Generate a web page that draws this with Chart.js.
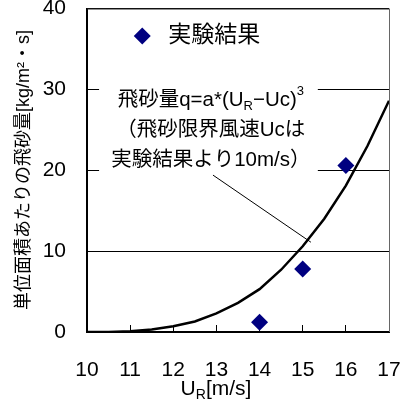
<!DOCTYPE html>
<html>
<head>
<meta charset="utf-8">
<script src="https://cdn.jsdelivr.net/npm/chart.js@4/dist/chart.umd.min.js"></script>
<style>
  html, body { margin: 0; padding: 0; background: #fff; }
  canvas { display: block; }
</style>
</head>
<body>
<canvas id="c" width="407" height="407"></canvas>
<script>
// Measured sand flux at each wind speed
const windSpeeds = [14, 15, 16];
const measuredFlux = [1.2, 7.8, 20.6];

// Fitted curve q = a*(U_R - Uc)^3, Uc = 10 m/s
const curveSpeeds = [10, 10.5, 11, 11.5, 12, 12.5, 13, 13.5, 14, 14.5, 15, 15.5, 16, 16.5, 17];
const curveFlux = [0, 0.01, 0.08, 0.3, 0.7, 1.3, 2.3, 3.6, 5.3, 7.7, 10.6, 14.0, 18.1, 23.0, 28.6];

// Axis ranges and ticks
const xRange = [10, 17];
const yRange = [0, 40];
const xStep = 1;
const yStep = 10;

// Text
const legendLabel = '実験結果';
const noteLines = [
  [{ t: '飛砂量q=a*(U' }, { t: 'R', sub: true }, { t: '−Uc)' }, { t: '3', sup: true }],
  [{ t: '（飛砂限界風速Ucは' }],
  [{ t: '実験結果より10m/s）' }]
];
const xTitle = [{ t: 'U' }, { t: 'R', sub: true }, { t: '[m/s]' }];
const yTitle = '単位面積あたりの飛砂量[kg/m²・s]';

const FAMILY = '"Liberation Sans", "Noto Sans CJK JP", sans-serif';
const NAVY = '#000080';

function font(size) { return size + 'px ' + FAMILY; }

// Width of a run of text with sub/superscript pieces
function richWidth(ctx, segs, size) {
  let w = 0;
  for (const s of segs) {
    ctx.font = font(s.sub || s.sup ? Math.round(size * 0.65) : size);
    w += ctx.measureText(s.t).width;
  }
  return w;
}
// Draws such a run starting at x (left), centred on y
function drawRich(ctx, segs, x, y, size) {
  ctx.textBaseline = 'middle';
  ctx.textAlign = 'left';
  for (const s of segs) {
    const small = s.sub || s.sup;
    ctx.font = font(small ? Math.round(size * 0.65) : size);
    const dy = s.sub ? size * 0.3 : s.sup ? -size * 0.42 : 0;
    ctx.fillText(s.t, x, y + dy);
    x += ctx.measureText(s.t).width;
  }
}

const decorations = {
  id: 'decorations',
  beforeDatasetsDraw(chart) {
    const { ctx, chartArea: a, scales: { x, y } } = chart;
    ctx.save();
    // white note box over the grid
    const bx0 = x.getPixelForValue(10.28), bx1 = x.getPixelForValue(15.35);
    const by0 = y.getPixelForValue(30.6), by1 = y.getPixelForValue(19.5);
    ctx.fillStyle = '#fff';
    ctx.fillRect(bx0, by0, bx1 - bx0, by1 - by0);
    // top and right frame
    ctx.strokeStyle = '#222';
    ctx.lineWidth = 1;
    ctx.beginPath();
    ctx.moveTo(a.left, a.top + 0.5);
    ctx.lineTo(a.right, a.top + 0.5);
    ctx.stroke();
    ctx.strokeStyle = '#666';
    ctx.beginPath();
    ctx.moveTo(a.right + 0.5, a.top);
    ctx.lineTo(a.right + 0.5, a.bottom);
    ctx.stroke();
    ctx.restore();
  },
  afterDatasetsDraw(chart) {
    const { ctx, scales: { x, y } } = chart;
    ctx.save();

    // legend
    const lx = x.getPixelForValue(11.28), ly = y.getPixelForValue(36.6);
    const r = 8.5;
    ctx.fillStyle = NAVY;
    ctx.beginPath();
    ctx.moveTo(lx, ly - r); ctx.lineTo(lx + r, ly); ctx.lineTo(lx, ly + r); ctx.lineTo(lx - r, ly);
    ctx.closePath();
    ctx.fill();
    ctx.fillStyle = '#000';
    ctx.font = font(23);
    ctx.textBaseline = 'middle';
    ctx.textAlign = 'left';
    ctx.fillText(legendLabel, lx + 26, ly);

    // note text, centred lines
    const cx = x.getPixelForValue(12.87);
    const cy0 = y.getPixelForValue(28.64);
    noteLines.forEach((segs, i) => {
      const w = richWidth(ctx, segs, 20.5);
      drawRich(ctx, segs, cx - w / 2, cy0 + i * 30, 20.5);
    });

    // leader line to the curve
    ctx.strokeStyle = '#000';
    ctx.lineWidth = 1;
    ctx.beginPath();
    ctx.moveTo(x.getPixelForValue(12.92), y.getPixelForValue(19.4));
    ctx.lineTo(x.getPixelForValue(15.19), y.getPixelForValue(11.1));
    ctx.stroke();
    ctx.restore();
  },
  afterDraw(chart) {
    const { ctx } = chart;
    ctx.save();
    ctx.fillStyle = '#000';
    // x axis title
    const w = richWidth(ctx, xTitle, 21);
    drawRich(ctx, xTitle, 216 - w / 2, 389, 21);
    // y axis title
    ctx.translate(24, 170);
    ctx.rotate(-Math.PI / 2);
    ctx.font = font(18);
    ctx.textAlign = 'center';
    ctx.textBaseline = 'middle';
    ctx.fillText(yTitle, 0, 0);
    ctx.restore();
  }
};

new Chart(document.getElementById('c'), {
  type: 'scatter',
  data: {
    datasets: [
      {
        label: 'q=a*(UR-Uc)^3',
        data: curveSpeeds.map((v, i) => ({ x: v, y: curveFlux[i] })),
        showLine: true,
        borderColor: '#000',
        borderWidth: 2.5,
        pointRadius: 0,
        tension: 0,
        order: 2
      },
      {
        label: legendLabel,
        data: windSpeeds.map((v, i) => ({ x: v, y: measuredFlux[i] })),
        pointStyle: 'rectRot',
        pointRadius: 8.5,
        backgroundColor: NAVY,
        borderColor: NAVY,
        borderWidth: 0,
        order: 1
      }
    ]
  },
  options: {
    responsive: false,
    devicePixelRatio: 1,
    animation: false,
    layout: { padding: { top: 8, right: 18, left: 0, bottom: 0 } },
    plugins: { legend: { display: false }, tooltip: { enabled: false } },
    scales: {
      x: {
        type: 'linear',
        min: xRange[0], max: xRange[1],
        ticks: { stepSize: xStep, color: '#000', font: { size: 21, family: FAMILY }, padding: 33, maxRotation: 0 },
        grid: { drawOnChartArea: false, drawTicks: true, tickLength: -7, color: '#000', lineWidth: 1 },
        border: { display: true, color: '#000', width: 2 },
        afterFit(s) { s.height = 75; s.paddingLeft = 0; s.paddingRight = 0; }
      },
      y: {
        min: yRange[0], max: yRange[1],
        ticks: { stepSize: yStep, color: '#000', font: { size: 21, family: FAMILY }, padding: 21 },
        grid: { drawTicks: false, color: '#000', lineWidth: 1 },
        border: { display: true, color: '#000', width: 2 },
        afterFit(s) { s.width = 87; s.paddingTop = 0; s.paddingBottom = 0; }
      }
    }
  },
  plugins: [decorations]
});
</script>
</body>
</html>
